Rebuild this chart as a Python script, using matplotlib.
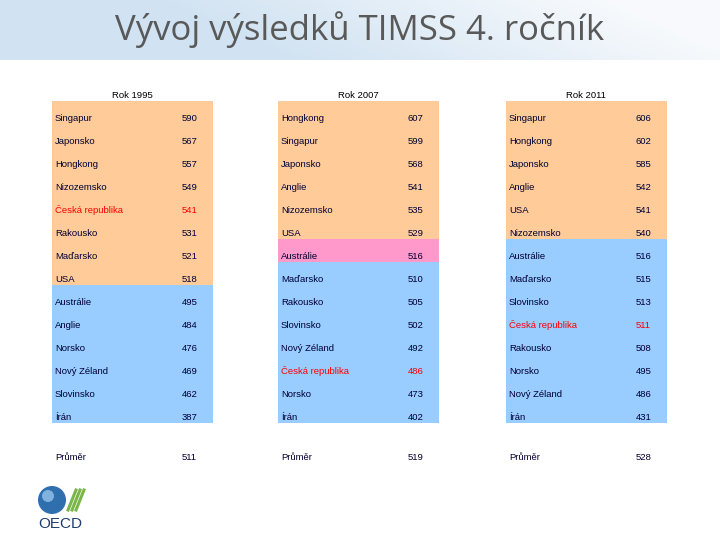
import numpy as np
import matplotlib
matplotlib.use("Agg")
import matplotlib.pyplot as plt
from matplotlib.patches import Rectangle, Circle

title = "Vývoj výsledků TIMSS 4. ročník"
years = ["Rok 1995", "Rok 2007", "Rok 2011"]
names = [
    ["Singapur", "Japonsko", "Hongkong", "Nizozemsko", "Česká republika", "Rakousko", "Maďarsko",
     "USA", "Austrálie", "Anglie", "Norsko", "Nový Zéland", "Slovinsko", "Írán"],
    ["Hongkong", "Singapur", "Japonsko", "Anglie", "Nizozemsko", "USA", "Austrálie",
     "Maďarsko", "Rakousko", "Slovinsko", "Nový Zéland", "Česká republika", "Norsko", "Írán"],
    ["Singapur", "Hongkong", "Japonsko", "Anglie", "USA", "Nizozemsko", "Austrálie",
     "Maďarsko", "Slovinsko", "Česká republika", "Rakousko", "Norsko", "Nový Zéland", "Írán"],
]
scores = [
    [590, 567, 557, 549, 541, 531, 521, 518, 495, 484, 476, 469, 462, 387],
    [607, 599, 568, 541, 535, 529, 516, 510, 505, 502, 492, 486, 473, 402],
    [606, 602, 585, 542, 541, 540, 516, 515, 513, 511, 508, 495, 486, 431],
]
averages = [511, 519, 528]
# number of rows above the average (orange), and pink rows
n_above = [8, 6, 6]
pink_rows = [[], [6], []]

ORANGE, BLUE, PINK = "#FFCC99", "#99CCFF", "#FF99CC"

fig = plt.figure(figsize=(7.2, 5.4), dpi=100)
ax = fig.add_axes([0, 0, 1, 1])
ax.set_xlim(0, 720)
ax.set_ylim(540, 0)
ax.axis("off")

# header band gradient
xx, yy = np.meshgrid(np.linspace(0, 1, 300), np.linspace(0, 1, 60))
t = np.clip(xx * 1.6 - yy * 0.3 - 0.35, 0, 1)
band = np.zeros((60, 300, 3))
c0 = np.array([0.82, 0.89, 0.95])
c1 = np.array([0.97, 0.98, 0.99])
for k in range(3):
    band[..., k] = c0[k] * (1 - t) + c1[k] * t
ax.imshow(band, extent=(0, 720, 60, 0), aspect="auto", zorder=0)
ax.text(360, 30, title, ha="center", va="center", fontsize=25, color="#595959",
        family="Open Sans")

col_x = [52, 278, 506]
col_w = 161
row_top = 101
row_h = 23
fs = 6.8

for c in range(3):
    x0 = col_x[c]
    ax.text(x0 + 80, 98, years[c], ha="center", va="baseline", fontsize=fs,
            family="Liberation Sans", color="black")
    for i, (nm, sc) in enumerate(zip(names[c], scores[c])):
        y0 = row_top + i * row_h
        if i in pink_rows[c]:
            col = PINK
        elif i < n_above[c]:
            col = ORANGE
        else:
            col = BLUE
        ax.add_patch(Rectangle((x0, y0), col_w, row_h, facecolor=col, edgecolor="none"))
        tc = "#FF0000" if nm == "Česká republika" else "#000033"
        ax.text(x0 + 3, y0 + 20, nm, ha="left", va="baseline", fontsize=fs,
                family="Liberation Sans", color=tc)
        ax.text(x0 + 130, y0 + 20, str(sc), ha="left", va="baseline", fontsize=fs,
                family="Liberation Sans", color=tc)
    ax.text(x0 + 3, 460, "Průměr", ha="left", va="baseline", fontsize=fs,
            family="Liberation Sans", color="#000033")
    ax.text(x0 + 130, 460, str(averages[c]), ha="left", va="baseline", fontsize=fs,
            family="Liberation Sans", color="#000033")

# OECD logo
ax.add_patch(Circle((52, 500), 14, facecolor="#2f6fae", edgecolor="none"))
ax.add_patch(Circle((48, 496), 6, facecolor="#7fb2dd", edgecolor="none"))
for k in range(3):
    ax.plot([68 + k * 4, 76 + k * 4], [510, 490], color="#7ab648", lw=2.2)
ax.text(60, 524, "OECD", ha="center", va="center", fontsize=11, color="#1f3d6e",
        family="Liberation Sans")

fig.savefig("out.png", dpi=100)
